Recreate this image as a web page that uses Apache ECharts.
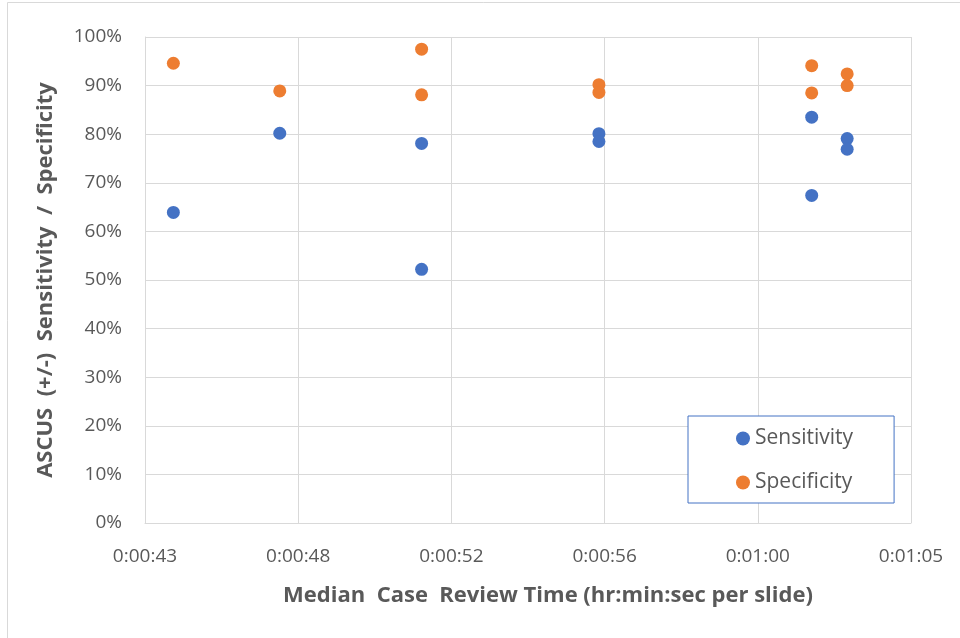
<!DOCTYPE html>
<html>
<head>
<meta charset="utf-8">
<title>ASCUS Sensitivity / Specificity</title>
<script src="https://cdn.jsdelivr.net/npm/echarts@6/dist/echarts.min.js"></script>
<style>
    html, body { margin: 0; padding: 0; background: #fff; }
    #main { width: 960px; height: 638px; }
</style>
</head>
<body>
<div id="main"></div>
<script>
    // review time in seconds per slide, values in %
    var sensTime  = [44, 47, 51, 51, 56, 56, 62, 62, 63, 63]
    var sensValue = [63.9, 80.2, 78.1, 52.2, 80.1, 78.5, 83.5, 67.4, 79.1, 76.9]
    var specTime  = [44, 47, 51, 51, 56, 56, 62, 62, 63, 63]
    var specValue = [94.6, 88.9, 97.5, 88.1, 90.2, 88.6, 94.1, 88.5, 92.4, 90.0]

    // axis range (Excel time axis, days converted to seconds)
    var xMin = 43.2, xMax = 64.8, xStep = 4.32

    var seriesNames = ['Sensitivity', 'Specificity']

    function pairs (xs, ys) {
        var out = []
        for (var i = 0; i < xs.length; i++) out.push([xs[i], ys[i]])
        return out
    }

    function fmtTime (v) {
        var s = Math.round(v)
        var h = Math.floor(s / 3600)
        var m = Math.floor((s % 3600) / 60)
        var sec = s % 60
        return h + ':' + (m < 10 ? '0' : '') + m + ':' + (sec < 10 ? '0' : '') + sec
    }

    var font = '"Open Sans", sans-serif'
    var myChart = echarts.init(document.getElementById('main'))
    var option = {
        backgroundColor: '#fff',
        animation: false,
        textStyle: { fontFamily: font },
        graphic: [{
            type: 'polyline',
            shape: { points: [[7.5, 638], [7.5, 2.5], [960, 2.5]] },
            style: { stroke: '#d9d9d9', fill: null, lineWidth: 1 }
        }],
        grid: { left: 145, right: 49, top: 37, bottom: 115 },
        legend: {
            data: seriesNames,
            orient: 'vertical',
            left: 688,
            top: 416,
            padding: [12, 41, 10, 48],
            itemGap: 23,
            itemWidth: 14,
            itemHeight: 14,
            icon: 'circle',
            borderColor: '#4472c4',
            borderWidth: 1,
            backgroundColor: '#fff',
            textStyle: { fontSize: 21, color: '#595959', fontFamily: font }
        },
        xAxis: {
            type: 'value',
            min: xMin,
            max: xMax,
            interval: xStep,
            name: 'Median  Case  Review Time (hr:min:sec per slide)',
            nameLocation: 'middle',
            nameGap: 62,
            nameTextStyle: {
                fontSize: 22, fontWeight: 'bold', color: '#595959', fontFamily: font,
                padding: [0, 0, 0, 40]
            },
            axisLine: { show: true, lineStyle: { color: '#d9d9d9' } },
            axisTick: { show: false },
            axisLabel: {
                fontSize: 19,
                color: '#595959',
                margin: 24,
                showMaxLabel: true,
                formatter: fmtTime
            },
            splitLine: { show: true, lineStyle: { color: '#d9d9d9', width: 1 } }
        },
        yAxis: {
            type: 'value',
            min: 0,
            max: 100,
            interval: 10,
            name: 'ASCUS  (+/-)  Sensitivity  /  Specificity',
            nameLocation: 'middle',
            nameGap: 88,
            nameTextStyle: { fontSize: 22, fontWeight: 'bold', color: '#595959', fontFamily: font },
            axisLine: { show: true, lineStyle: { color: '#d9d9d9' } },
            axisTick: { show: false },
            axisLabel: {
                fontSize: 19,
                color: '#595959',
                margin: 23,
                formatter: '{value}%'
            },
            splitLine: { show: true, lineStyle: { color: '#d9d9d9', width: 1 } }
        },
        series: [{
            name: seriesNames[0],
            type: 'scatter',
            symbolSize: 13,
            itemStyle: { color: '#4472c4', opacity: 1 },
            data: pairs(sensTime, sensValue)
        }, {
            name: seriesNames[1],
            type: 'scatter',
            symbolSize: 13,
            itemStyle: { color: '#ed7d31', opacity: 1 },
            data: pairs(specTime, specValue)
        }]
    }
    myChart.setOption(option)
</script>
</body>
</html>
